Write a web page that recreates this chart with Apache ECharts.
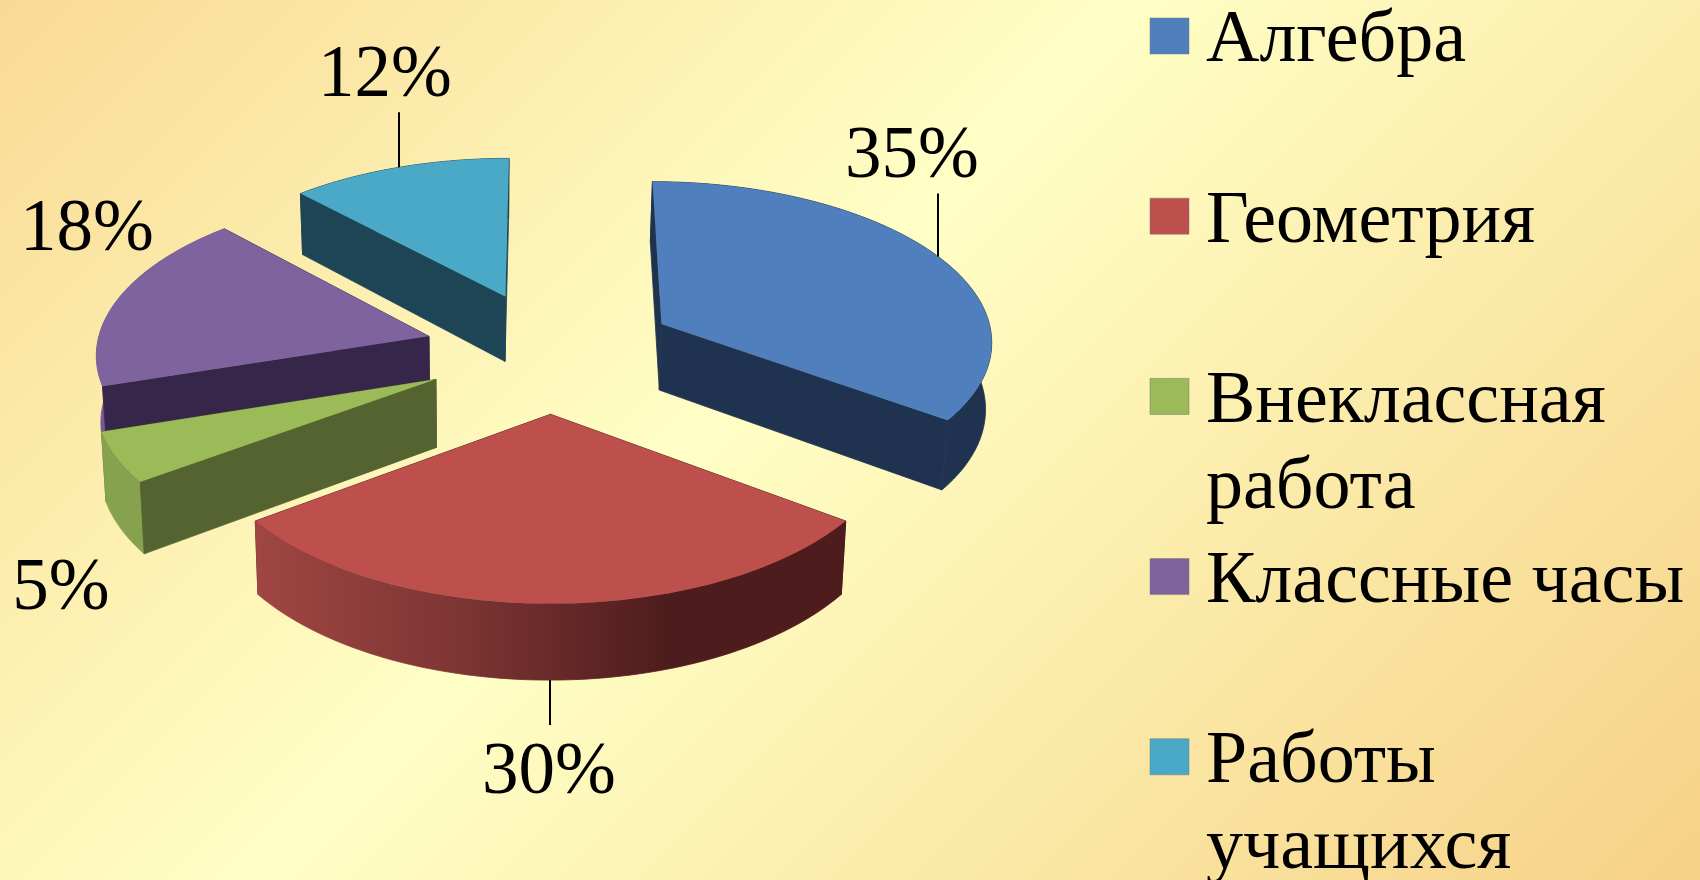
<!DOCTYPE html>
<html>
<head>
<meta charset="utf-8">
<title>Pie</title>
<style>
  html, body { margin: 0; padding: 0; }
  #chart { width: 1700px; height: 880px; }
</style>
</head>
<body>
<div id="chart"></div>
<script src="https://cdn.jsdelivr.net/npm/echarts@6/dist/echarts.min.js"></script>
<script>
const categories = ['Алгебра', 'Геометрия', 'Внеклассная\nработа', 'Классные часы', 'Работы\nучащихся'];
const shares = [35, 30, 5, 18, 12];

const topColors = ['#4f7fbc', '#bd4f4c', '#9bbb59', '#7f639f', '#4aa9c6'];
const sideColors = ['#1f3350', '#4c1c1c', '#546330', '#36264a', '#1e4555'];
const rimColors = ['#1f3350', null, '#86a24e', '#735a92', '#1e4555'];
// label position relative to the rim point in the middle of each slice
const labelShift = [[-26, -135], [-1, 57], [-55, 96], [-32, -104], [-14, -127]];
const leaderLength = [63, 45, 0, 0, 55];

const fontName = '"Liberation Serif", "Times New Roman", serif';
const labelFontSize = 73;
const legendFontSize = 74;

// tilted view of the pie, fitted to the picture
const view = { cx: 550.5, cy: 351.3, a: 333, b: 160, persp: 0.0904, explode: 0.38, depth: 67, shrink: 0.988, vanishX: 477 };

const project = (x, y, down) => {
  const w = 1 + view.persp * y;
  const sx = view.cx + view.a * x / w;
  return [
    down ? view.vanishX + (sx - view.vanishX) * view.shrink : sx,
    view.cy - view.b * y / w + (down ? view.depth / w : 0)
  ];
};

const total = shares.reduce((s, v) => s + v, 0);
const startAngles = [];
shares.reduce((s, v, i) => {
  startAngles[i] = s;
  return s + v / total * Math.PI * 2;
}, 0);

const renderSlice = (params, api) => {
  const i = params.dataIndex;
  const value = api.value(0);
  const start = startAngles[i];
  const end = start + value / total * Math.PI * 2;
  const mid = (start + end) / 2;
  const ox = Math.sin(mid) * view.explode;
  const oy = Math.cos(mid) * view.explode;
  const rim = (t, down) => project(ox + Math.sin(t), oy + Math.cos(t), down);

  const topArc = [];
  const bottomArc = [];
  const steps = 60;
  for (let s = 0; s <= steps; s++) {
    const t = start + (end - start) * s / steps;
    topArc.push(rim(t, false));
    bottomArc.push(rim(t, true));
  }
  const apexTop = project(ox, oy, false);
  const apexBottom = project(ox, oy, true);

  const base = Math.round((1.5 - oy) * 100) * 10;
  const polygon = (points, fill, z, edge) => ({
    type: 'polygon',
    z2: base + z,
    shape: { points: points },
    style: { fill: fill, stroke: edge ? fill : null, lineWidth: edge ? 0.8 : 0 }
  });
  const radial = (t) => [apexTop, rim(t, false), rim(t, true), apexBottom];

  // only the faces turned to the viewer go over the rim
  const startFront = Math.sin(start) < 0;
  const endFront = Math.sin(end) > 0;
  const rimFill = rimColors[i] || new echarts.graphic.LinearGradient(0, 0, 1, 0, [
    { offset: 0, color: '#a04643' },
    { offset: 0.35, color: '#7c3533' },
    { offset: 0.7, color: '#4e1c1c' },
    { offset: 1, color: '#4e1c1c' }
  ]);

  const children = [
    polygon(radial(start), sideColors[i], startFront ? 2 : 0, true),
    polygon(radial(end), sideColors[i], endFront ? 2 : 0, true),
    polygon(topArc.concat(bottomArc.slice().reverse()), rimFill, 1, true),
    polygon([apexTop].concat(topArc), topColors[i], 3, false)
  ];

  const front = Math.cos(mid) < -0.9;
  const anchor = rim(mid, front);
  anchor[0] = Math.round(anchor[0]);
  if (leaderLength[i]) {
    const dir = front ? 1 : -1;
    children.push({
      type: 'line',
      z2: 5000,
      shape: { x1: anchor[0], y1: anchor[1], x2: anchor[0], y2: anchor[1] + dir * leaderLength[i] },
      style: { stroke: '#000', lineWidth: 2 }
    });
  }
  children.push({
    type: 'text',
    z2: 5000,
    style: {
      text: value + '%',
      x: anchor[0] + labelShift[i][0],
      y: anchor[1] + labelShift[i][1],
      align: 'center',
      verticalAlign: 'top',
      fill: '#000',
      font: labelFontSize + 'px ' + fontName
    }
  });
  return { type: 'group', children: children };
};

const legendStep = 180.2;
const legendGraphics = [];
categories.forEach((name, i) => {
  const middle = 36 + legendStep * i;
  legendGraphics.push({
    type: 'rect',
    shape: { x: 1150, y: middle - 18, width: 39, height: 36 },
    style: { fill: topColors[i], stroke: 'rgba(120,120,120,0.5)', lineWidth: 1 }
  });
  legendGraphics.push({
    type: 'text',
    style: {
      text: name,
      x: 1206,
      y: middle - 37,
      align: 'left',
      verticalAlign: 'top',
      lineHeight: 86,
      fill: '#000',
      font: legendFontSize + 'px ' + fontName
    }
  });
});

const chart = echarts.init(document.getElementById('chart'));
chart.setOption({
  animation: false,
  // 45 degree bands, brightest a little before the middle of the diagonal
  backgroundColor: new echarts.graphic.LinearGradient(0, 0, 1290, 1290, [
    { offset: 0, color: '#f9da94' },
    { offset: 0.44, color: '#ffffc6' },
    { offset: 1, color: '#f6d186' }
  ], true),
  graphic: legendGraphics,
  series: [{
    type: 'custom',
    coordinateSystem: 'none',
    renderItem: renderSlice,
    data: shares
  }]
});
</script>
</body>
</html>
